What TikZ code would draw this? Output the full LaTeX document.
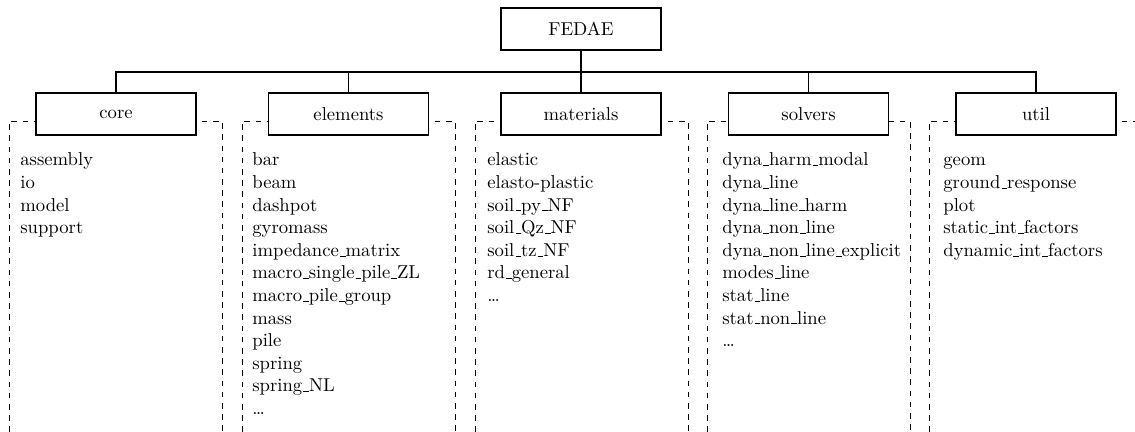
\documentclass[tikz,border=0pt]{standalone}
\usetikzlibrary{backgrounds}
\newcommand\usc{\leavevmode\kern.06em\vbox{\hrule width.3em}}
\begin{document}
\begin{tikzpicture}[x=0.536pt,y=-0.536pt,
  modbox/.style={draw,line width=0.8pt,fill=white,minimum width=85.8pt,minimum height=22.5pt,inner sep=0pt},
  conn/.style={line width=0.8pt},
  frame/.style={dashed,line width=0.4pt},
  item/.style={anchor=base west,inner sep=0pt}]
\useasboundingbox (0,0) rectangle (1135,432);
\node[modbox] (fedae) at (581,29) {FEDAE};
\node[modbox] (core) at (116,114) {core};
\node[modbox] (elements) at (348.5,114) {elements};
\node[modbox] (materials) at (581,114) {materials};
\node[modbox] (solvers) at (808.5,114) {solvers};
\node[modbox] (util) at (1036,114) {util};
\coordinate (bus) at (581,72);
\draw[conn] (core.north) |- (bus) -| (util.north);
\draw[conn] (fedae.south) -- (materials.north);
\draw[conn] (elements.north) -- (elements.north |- bus);
\draw[conn] (solvers.north) -- (solvers.north |- bus);
\begin{scope}[on background layer]
\draw[frame] (9,432) -- (9,121) -- (222,121) -- (222,432);
\draw[frame] (242,432) -- (242,121) -- (455,121) -- (455,432);
\draw[frame] (475,432) -- (475,121) -- (688,121) -- (688,432);
\draw[frame] (707,432) -- (707,121) -- (910,121) -- (910,432);
\draw[frame] (929,432) -- (929,121) -- (1135,121);
\end{scope}
\foreach [count=\i] \t in {assembly,io,model,support}
  \node[item,name=core-\i] at (20,{166+(\i-1)*22.6}) {\t};
\foreach [count=\i] \t in {bar,beam,dashpot,gyromass,impedance\usc matrix,macro\usc single\usc pile\usc ZL,macro\usc pile\usc group,mass,pile,spring,spring\usc NL,\dots}
  \node[item,name=elem-\i] at (252,{166+(\i-1)*22.6}) {\t};
\foreach [count=\i] \t in {elastic,elasto-plastic,soil\usc py\usc NF,soil\usc Qz\usc NF,soil\usc tz\usc NF,rd\usc general,\dots}
  \node[item,name=mat-\i] at (487,{166+(\i-1)*22.6}) {\t};
\foreach [count=\i] \t in {dyna\usc harm\usc modal,dyna\usc line,dyna\usc line\usc harm,dyna\usc non\usc line,dyna\usc non\usc line\usc explicit,modes\usc line,stat\usc line,stat\usc non\usc line,\dots}
  \node[item,name=sol-\i] at (722,{166+(\i-1)*22.6}) {\t};
\foreach [count=\i] \t in {geom,ground\usc response,plot,static\usc int\usc factors,dynamic\usc int\usc factors}
  \node[item,name=util-\i] at (943,{166+(\i-1)*22.6}) {\t};
\end{tikzpicture}
\end{document}
